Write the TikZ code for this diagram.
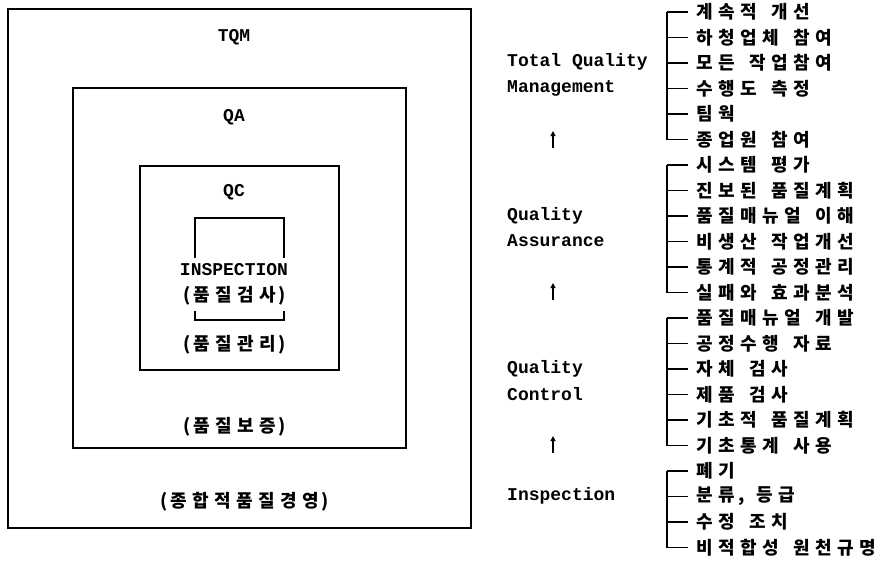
\documentclass[tikz,border=0pt]{standalone}
\usepackage{fontspec}
\usetikzlibrary{arrows.meta}
\newfontfamily\krfont{Noto Sans CJK KR}
\newfontfamily\monofont{Liberation Mono}
% fixed-pitch Hangul: each syllable in a 22pt cell, word gap 9pt
\newcommand\hgbox[1]{\makebox[22pt][c]{#1}}
\def\hgstep#1{\ifx#1,\hbox{,}\else\hgbox{#1}\fi}
\def\hgi#1{\ifx#1\relax\else\hgstep{#1}\expandafter\hgi\fi}
\def\hgwords#1 #2\relax{\hgi#1\relax\ifx\relax#2\relax\else\hspace{9pt}\hgwords#2\relax\fi}
\newcommand\hg[1]{\hgwords#1 \relax}
\tikzset{
  box/.style={line width=1.6pt},
  brk/.style={line width=1.4pt},
  kr/.style={inner sep=0pt,font={\fontsize{18}{20}\krfont\bfseries}},
  mono/.style={inner sep=0pt,font={\fontsize{18}{20}\monofont\bfseries}},
  item/.style={kr,anchor=west},
  lbl/.style={mono,anchor=west},
  uparrow/.style={line width=1.4pt,-{Triangle[length=5pt,width=5pt]}}
}
\begin{document}
\begin{tikzpicture}[x=1pt,y=-1pt]
\useasboundingbox (0,0) rectangle (881,568);
% nested boxes
\draw[box] (8,9) rectangle (471,528);
\draw[box] (73,88) rectangle (406,448);
\draw[box] (140,166) rectangle (339,370);
\draw[brk] (195,258) -- (195,218) -- (284,218) -- (284,258);
\draw[brk] (195,311) -- (195,320) -- (284,320) -- (284,311);
\node[mono] (tqm) at (234,37) {TQM};
\node[mono] (qa) at (234,117) {QA};
\node[mono] (qc) at (234,192) {QC};
\node[mono] (insp) at (234,270) {INSPECTION};
\node[kr] (k1) at (235,296) {(\hg{품질검사})};
\node[kr] (k2) at (235,345) {(\hg{품질관리})};
\node[kr] (k3) at (235,427) {(\hg{품질보증})};
\node[kr] (k4) at (245,502) {(\hg{종합적품질경영})};
% right column labels
\node[lbl] (l1) at (507,62) {Total Quality};
\node[lbl] (l2) at (507,88) {Management};
\node[lbl] (l3) at (507,216) {Quality};
\node[lbl] (l4) at (507,241) {Assurance};
\node[lbl] (l5) at (507,369) {Quality};
\node[lbl] (l6) at (507,394) {Control};
\node[lbl] (l7) at (507,496) {Inspection};
\coordinate (a1b) at (553,148); \coordinate (a1t) at (553,131);
\coordinate (a2b) at (553,300); \coordinate (a2t) at (553,283);
\coordinate (a3b) at (553,453); \coordinate (a3t) at (553,436);
\draw[uparrow] (a1b) -- (a1t);
\draw[uparrow] (a2b) -- (a2t);
\draw[uparrow] (a3b) -- (a3t);
% items
\foreach \t [count=\i] in {계속적 개선,하청업체 참여,모든 작업참여,수행도 측정,팀웍,종업원 참여,
  시스템 평가,진보된 품질계획,품질매뉴얼 이해,비생산 작업개선,통계적 공정관리,실패와 효과분석,
  품질매뉴얼 개발,공정수행 자료,자체 검사,제품 검사,기초적 품질계획,기초통계 사용,
  폐기,{분류, 등급},수정 조치,비적합성 원천규명}{
  \node[item] (it\i) at (694,{12+(\i-1)*25.5}) {\expandafter\hg\expandafter{\t}};
  \coordinate (tk\i) at (667,{12+(\i-1)*25.5});
  \draw[brk] (tk\i) -- ++(21,0);
}
\draw[brk] (tk1) -- (tk6);
\draw[brk] (tk7) -- (tk12);
\draw[brk] (tk13) -- (tk18);
\draw[brk] (tk19) -- (tk22);
\end{tikzpicture}
\end{document}
